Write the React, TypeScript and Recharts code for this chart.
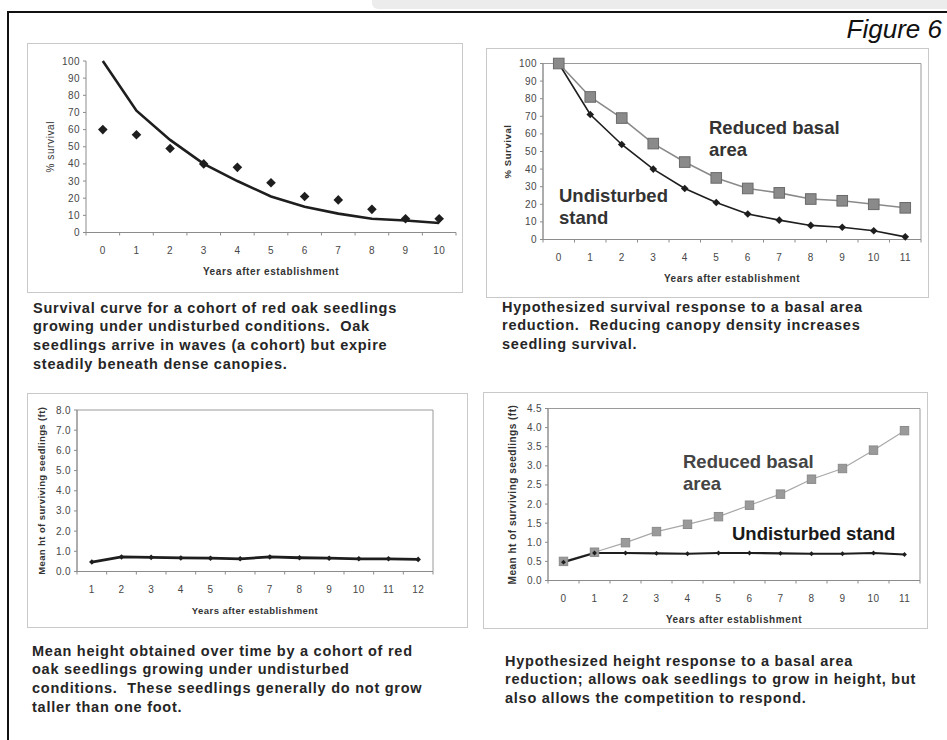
import React from 'react'
import { ComposedChart, Line, Scatter, XAxis, YAxis, ReferenceArea } from 'recharts'

const FONT = 'Arial, "Liberation Sans", Helvetica, sans-serif'
const AXIS = '#8c8c8c'
const TICK = '#474747'
const INK = '#1e1e1e'

// top left: survival of a cohort, undisturbed
const years1 = [0, 1, 2, 3, 4, 5, 6, 7, 8, 9, 10]
const curve1 = [100, 71, 54, 40, 30, 21, 15, 11, 8, 7, 5.5]
const cohort1 = [60, 57, 49, 40, 38, 29, 21, 19, 13.5, 8, 8]
const yTicks1 = [0, 10, 20, 30, 40, 50, 60, 70, 80, 90, 100]

// top right: survival, undisturbed vs reduced basal area
const years2 = [0, 1, 2, 3, 4, 5, 6, 7, 8, 9, 10, 11]
const undisturbed2 = [100, 71, 54, 40, 29, 21, 14.5, 11, 8, 7, 5, 1.5]
const reduced2 = [100, 81, 69, 54.5, 44, 35, 29, 26.5, 23, 22, 20, 18]

// bottom left: mean height, undisturbed
const years3 = [1, 2, 3, 4, 5, 6, 7, 8, 9, 10, 11, 12]
const height3 = [0.47, 0.72, 0.7, 0.67, 0.66, 0.63, 0.72, 0.68, 0.66, 0.63, 0.63, 0.6]
const yTicks3 = [0, 1, 2, 3, 4, 5, 6, 7, 8]

// bottom right: mean height, reduced vs undisturbed
const years4 = [0, 1, 2, 3, 4, 5, 6, 7, 8, 9, 10, 11]
const reduced4 = [0.5, 0.74, 0.99, 1.28, 1.47, 1.67, 1.97, 2.26, 2.65, 2.93, 3.41, 3.92]
const undisturbed4 = [0.48, 0.72, 0.72, 0.71, 0.7, 0.72, 0.72, 0.71, 0.7, 0.7, 0.72, 0.68]
const yTicks4 = [0, 0.5, 1, 1.5, 2, 2.5, 3, 3.5, 4, 4.5]

const caption1 = [
  'Survival curve for a cohort of red oak seedlings',
  'growing under undisturbed conditions.  Oak',
  'seedlings arrive in waves (a cohort) but expire',
  'steadily beneath dense canopies.',
]
const caption2 = [
  'Hypothesized survival response to a basal area',
  'reduction.  Reducing canopy density increases',
  'seedling survival.',
]
const caption3 = [
  'Mean height obtained over time by a cohort of red',
  'oak seedlings growing under undisturbed',
  'conditions.  These seedlings generally do not grow',
  'taller than one foot.',
]
const caption4 = [
  'Hypothesized height response to a basal area',
  'reduction; allows oak seedlings to grow in height, but',
  'also allows the competition to respond.',
]

const data1 = years1.map((year, i) => ({ year, curve: curve1[i], cohort: cohort1[i] }))
const data2 = years2.map((year, i) => ({ year, undisturbed: undisturbed2[i], reduced: reduced2[i] }))
const data3 = years3.map((year, i) => ({ year, height: height3[i] }))
const data4 = years4.map((year, i) => ({ year, reduced: reduced4[i], undisturbed: undisturbed4[i] }))

type Box = { x: number; y: number; w: number; h: number }
type Plot = { left: number; right: number; top: number; bottom: number }

const box1: Box = { x: 27, y: 43, w: 436, h: 250 }
const plot1: Plot = { left: 86, right: 456, top: 61, bottom: 232.5 }
const box2: Box = { x: 486, y: 48, w: 443, h: 250 }
const plot2: Plot = { left: 543, right: 921, top: 63.5, bottom: 239.5 }
const box3: Box = { x: 27, y: 393, w: 441, h: 235 }
const plot3: Plot = { left: 77, right: 433, top: 410, bottom: 571.5 }
const box4: Box = { x: 483, y: 392, w: 445, h: 237 }
const plot4: Plot = { left: 548, right: 920, top: 408.5, bottom: 580.5 }

// excel style category axis: labels on the years, tick marks between them
const catTicks = (years: number[]) =>
  [...years, ...years.map((y) => y - 0.5), years[years.length - 1] + 0.5].sort((a, b) => a - b)

const XTick = (props: any) => {
  const { x, y, payload, size } = props
  const v = payload.value
  if (!Number.isInteger(v)) {
    return <line x1={x} x2={x} y1={y} y2={y + 3} stroke={AXIS} strokeWidth={1} />
  }
  return (
    <text x={x} y={y + 21.5} textAnchor="middle" fontSize={size} fill={TICK} letterSpacing={0.4} fontFamily={FONT}>
      {v}
    </text>
  )
}

const XTitle = (props: any) => {
  const vb = props.viewBox ?? { x: 0, y: 0, width: 0, height: 0 }
  return (
    <text
      x={vb.x + vb.width / 2}
      y={vb.y + 42}
      textAnchor="middle"
      fontSize={props.size}
      fontWeight={700}
      letterSpacing={props.spacing}
      fill="#333"
      fontFamily={FONT}
    >
      {props.text}
    </text>
  )
}

const YTitle = (props: any) => {
  const vb = props.viewBox ?? { x: 0, y: 0, width: 0, height: 0 }
  const cx = vb.x + vb.width - 36
  const cy = vb.y + vb.height / 2
  return (
    <text
      x={cx}
      y={cy}
      transform={`rotate(-90 ${cx} ${cy})`}
      textAnchor="middle"
      dominantBaseline="central"
      fontSize={props.size}
      fontWeight={props.weight}
      letterSpacing={props.spacing}
      fill="#333"
      fontFamily={FONT}
    >
      {props.text}
    </text>
  )
}

const diamond = (r: number, fill: string) => (p: any) =>
  p.cx == null ? (
    <g key={`n${p.index}`} />
  ) : (
    <path
      key={`d${p.index}`}
      d={`M${p.cx},${p.cy - r}L${p.cx + r},${p.cy}L${p.cx},${p.cy + r}L${p.cx - r},${p.cy}Z`}
      fill={fill}
    />
  )

const square = (h: number, fill: string, stroke: string) => (p: any) =>
  p.cx == null ? (
    <g key={`n${p.index}`} />
  ) : (
    <rect key={`s${p.index}`} x={p.cx - h} y={p.cy - h} width={2 * h} height={2 * h} fill={fill} stroke={stroke} strokeWidth={1} />
  )

type PanelProps = {
  box: Box
  plot: Plot
  data: any[]
  years: number[]
  yTicks: number[]
  yFormat?: (v: number) => string
  xTitle: React.ReactElement
  yTitle: React.ReactElement
  framed: boolean
  tickSize: number
  children: React.ReactNode
}

function Panel({ box, plot, data, years, yTicks, yFormat, xTitle, yTitle, framed, tickSize, children }: PanelProps) {
  const margin = { top: plot.top - box.y, right: box.x + box.w - plot.right, left: 0, bottom: 0 }
  const xDomain = [years[0] - 0.5, years[years.length - 1] + 0.5]
  const yDomain = [yTicks[0], yTicks[yTicks.length - 1]]
  return (
    <div
      style={{
        position: 'absolute',
        left: box.x,
        top: box.y,
        width: box.w,
        height: box.h,
        boxShadow: 'inset 0 0 0 1px #c9c9c9',
      }}
    >
      <ComposedChart width={box.w} height={box.h} data={data} margin={margin}>
        <XAxis
          type="number"
          dataKey="year"
          domain={xDomain}
          ticks={catTicks(years)}
          interval={0}
          tickLine={false}
          tickSize={0}
          tickMargin={0}
          axisLine={{ stroke: AXIS }}
          tick={(p: any) => <XTick {...p} size={tickSize} />}
          height={box.y + box.h - plot.bottom}
          label={xTitle}
        />
        <YAxis
          type="number"
          domain={yDomain}
          ticks={yTicks}
          interval={0}
          width={plot.left - box.x}
          tickSize={3}
          tickMargin={3}
          tickFormatter={yFormat}
          axisLine={{ stroke: AXIS }}
          tickLine={{ stroke: AXIS }}
          tick={{ fontSize: tickSize, fill: TICK, letterSpacing: 0.4, fontFamily: FONT }}
          label={yTitle}
        />
        {framed && (
          <ReferenceArea
            x1={xDomain[0]}
            x2={xDomain[1]}
            y1={yDomain[0]}
            y2={yDomain[1]}
            fill="none"
            stroke="#9a9a9a"
            strokeWidth={1}
          />
        )}
        {children}
      </ComposedChart>
    </div>
  )
}

const Caption = ({ x, y, lines }: { x: number; y: number; lines: string[] }) => (
  <div
    style={{
      position: 'absolute',
      left: x,
      top: y,
      fontSize: 14.5,
      fontWeight: 700,
      lineHeight: '18.7px',
      letterSpacing: 0.75,
      color: '#262626',
      whiteSpace: 'pre',
    }}
  >
    {lines.join('\n')}
  </div>
)

const SeriesLabel = ({ x, y, text, color }: { x: number; y: number; text: string; color: string }) => (
  <div
    style={{
      position: 'absolute',
      left: x,
      top: y,
      fontSize: 18.5,
      fontWeight: 700,
      lineHeight: '22px',
      color,
      whiteSpace: 'pre',
    }}
  >
    {text}
  </div>
)

const oneDecimal = (v: number) => v.toFixed(1)

export default function App() {
  return (
    <div
      style={{
        position: 'absolute',
        left: 0,
        top: 0,
        width: 947,
        height: 740,
        background: '#fff',
        overflow: 'hidden',
        fontFamily: FONT,
      }}
    >
      <div style={{ position: 'absolute', left: 372, top: 0, width: 600, height: 9, background: '#ececec', borderBottomLeftRadius: 6 }} />
      <div
        style={{
          position: 'absolute',
          left: 7,
          top: 11,
          width: 980,
          height: 780,
          borderTop: '2px solid #111',
          borderLeft: '2px solid #111',
        }}
      />
      <div style={{ position: 'absolute', right: 5, top: 16, fontSize: 26, lineHeight: '26px', fontStyle: 'italic', color: '#111' }}>
        Figure 6
      </div>

      <Panel
        box={box1}
        plot={plot1}
        data={data1}
        years={years1}
        yTicks={yTicks1}
        framed={false}
        tickSize={10}
        xTitle={<XTitle text="Years after establishment" size={10} spacing={0.6} />}
        yTitle={<YTitle text="% survival" size={10} weight={400} spacing={0.6} />}
      >
        <Line type="linear" dataKey="curve" stroke={INK} strokeWidth={2.6} dot={false} activeDot={false} isAnimationActive={false} />
        <Scatter dataKey="cohort" fill={INK} shape={diamond(4.8, INK)} isAnimationActive={false} />
      </Panel>

      <Panel
        box={box2}
        plot={plot2}
        data={data2}
        years={years2}
        yTicks={yTicks1}
        framed
        tickSize={10}
        xTitle={<XTitle text="Years after establishment" size={10} spacing={0.6} />}
        yTitle={<YTitle text="% Survival" size={9.5} weight={700} spacing={0.6} />}
      >
        <Line type="linear" dataKey="undisturbed" stroke={INK} strokeWidth={1.6} dot={diamond(3.8, INK)} activeDot={false} isAnimationActive={false} />
        <Line type="linear" dataKey="reduced" stroke="#8a8a8a" strokeWidth={1.6} dot={square(5.3, '#8a8a8a', '#6a6a6a')} activeDot={false} isAnimationActive={false} />
      </Panel>

      <Panel
        box={box3}
        plot={plot3}
        data={data3}
        years={years3}
        yTicks={yTicks3}
        yFormat={oneDecimal}
        framed
        tickSize={10}
        xTitle={<XTitle text="Years after establishment" size={9.5} spacing={0.45} />}
        yTitle={<YTitle text="Mean ht of surviving seedlings (ft)" size={9.5} weight={700} spacing={0.4} />}
      >
        <Line type="linear" dataKey="height" stroke={INK} strokeWidth={2.8} dot={diamond(2.8, INK)} activeDot={false} isAnimationActive={false} />
      </Panel>

      <Panel
        box={box4}
        plot={plot4}
        data={data4}
        years={years4}
        yTicks={yTicks4}
        yFormat={oneDecimal}
        framed
        tickSize={10}
        xTitle={<XTitle text="Years after establishment" size={10} spacing={0.6} />}
        yTitle={<YTitle text="Mean ht of surviving seedlings (ft)" size={10} weight={700} spacing={0.5} />}
      >
        <Line type="linear" dataKey="reduced" stroke="#a8a8a8" strokeWidth={1.2} dot={square(4.2, '#9a9a9a', '#8a8a8a')} activeDot={false} isAnimationActive={false} />
        <Line type="linear" dataKey="undisturbed" stroke={INK} strokeWidth={2.2} dot={diamond(2.4, INK)} activeDot={false} isAnimationActive={false} />
      </Panel>

      <SeriesLabel x={709} y={117} text={'Reduced basal\narea'} color="#333" />
      <SeriesLabel x={559} y={185} text={'Undisturbed\nstand'} color="#333" />
      <SeriesLabel x={683} y={451} text={'Reduced basal\narea'} color="#444" />
      <SeriesLabel x={732} y={523} text="Undisturbed stand" color="#1a1a1a" />

      <Caption x={33} y={298.5} lines={caption1} />
      <Caption x={502} y={297.5} lines={caption2} />
      <Caption x={32} y={641.5} lines={caption3} />
      <Caption x={505} y={651.5} lines={caption4} />
    </div>
  )
}
